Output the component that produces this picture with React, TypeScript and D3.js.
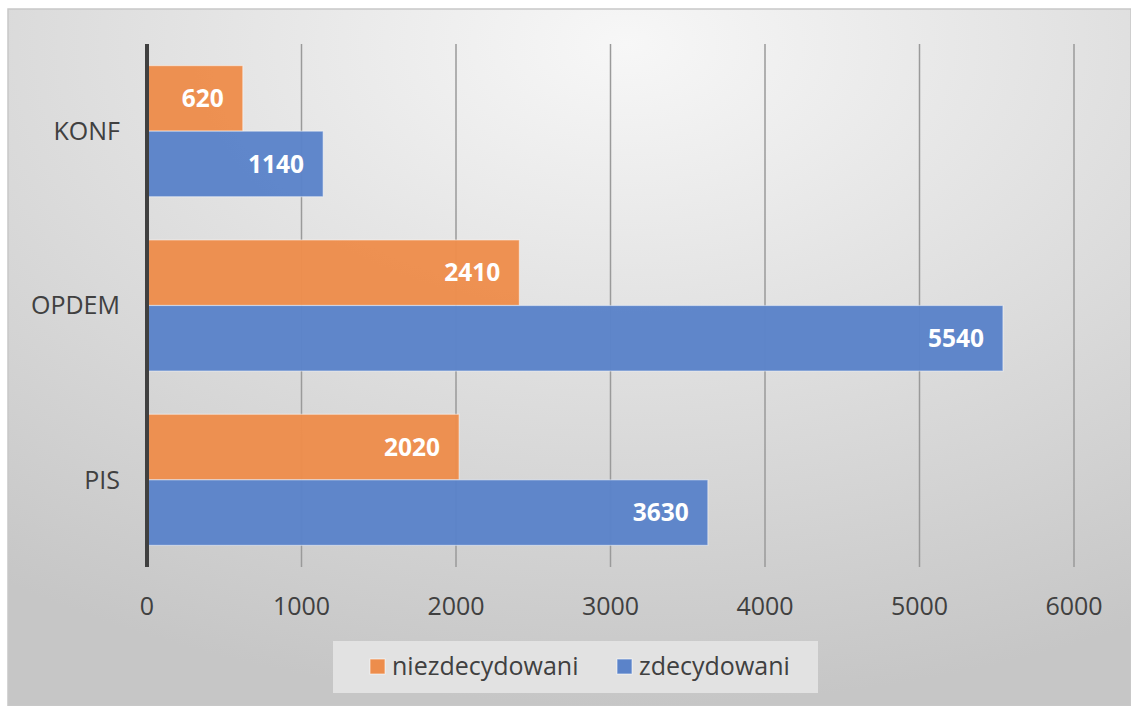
import React from 'react';
import * as d3 from 'd3';

const categories = ['KONF', 'OPDEM', 'PIS'];
const seriesNames = ['niezdecydowani', 'zdecydowani'];
const niezdecydowani = [620, 2410, 2020];
const zdecydowani = [1140, 5540, 3630];
const xTicks = [0, 1000, 2000, 3000, 4000, 5000, 6000];
const colors = ['#ED8D4C', '#5B83C9'];

const W = 1131;
const H = 706;
const font = '"Open Sans", "Noto Sans", sans-serif';

export default function App() {
  const x = d3.scaleLinear().domain([0, 6000]).range([147, 1074]);
  const y = d3.scaleBand().domain(categories).range([44, 567]).paddingInner(0.248).paddingOuter(0.124);
  const inner = d3.scaleBand().domain(seriesNames).range([0, y.bandwidth()]);
  const values = [niezdecydowani, zdecydowani];

  return (
    <svg width={W} height={H} style={{ position: 'absolute', left: 0, top: 0, display: 'block' }}>
      <defs>
        <radialGradient id="bg" cx="0.55" cy="0.05" r="0.95" gradientUnits="objectBoundingBox">
          <stop offset="0" stopColor="#f7f7f7" />
          <stop offset="1" stopColor="#c6c6c6" />
        </radialGradient>
      </defs>
      <rect x={0} y={0} width={W} height={H} fill="#fff" />
      <rect x={8} y={9} width={W - 8} height={H - 9} fill="url(#bg)" stroke="#c8c8c8" strokeWidth={1.5} />

      {/* grid */}
      {xTicks.slice(1).map(t => (
        <line key={t} x1={x(t)} x2={x(t)} y1={44} y2={567} stroke="#9a9a9a" strokeWidth={1.5} />
      ))}

      {/* bars */}
      {categories.map((c, i) => (
        <g key={c} transform={`translate(0,${y(c)})`}>
          {seriesNames.map((s, j) => {
            const v = values[j][i];
            const by = inner(s) as number;
            return (
              <g key={s}>
                <rect x={x(0)} y={by} width={x(v) - x(0)} height={inner.bandwidth()}
                  fill={colors[j]} fillOpacity={0.97} stroke="#ffffff" strokeOpacity={0.45} strokeWidth={1.2} />
                <text x={x(v) - 19} y={by + inner.bandwidth() / 2} dy="0.35em" textAnchor="end"
                  fill="#fff" fontFamily={font} fontWeight={700} fontSize={24.5}>{v}</text>
              </g>
            );
          })}
          <text x={120} y={y.bandwidth() / 2} dy="0.35em" textAnchor="end"
            fill="#404040" fontFamily={font} fontSize={25}>{c}</text>
        </g>
      ))}

      {/* axis line */}
      <line x1={x(0)} x2={x(0)} y1={44} y2={567} stroke="#404040" strokeWidth={4} />

      {/* tick labels */}
      {xTicks.map(t => (
        <text key={t} x={x(t)} y={606} dy="0.35em" textAnchor="middle"
          fill="#404040" fontFamily={font} fontSize={25}>{t}</text>
      ))}

      {/* legend */}
      <rect x={333} y={641} width={485} height={52} fill="#e2e2e2" />
      {seriesNames.map((s, j) => {
        const lx = j === 0 ? 370 : 617;
        return (
          <g key={s}>
            <rect x={lx} y={659} width={15} height={15} fill={colors[j]} stroke="#ffffff" strokeOpacity={0.6} strokeWidth={1} />
            <text x={lx + 22} y={666} dy="0.35em" fill="#404040" fontFamily={font} fontSize={25}>{s}</text>
          </g>
        );
      })}
    </svg>
  );
}
